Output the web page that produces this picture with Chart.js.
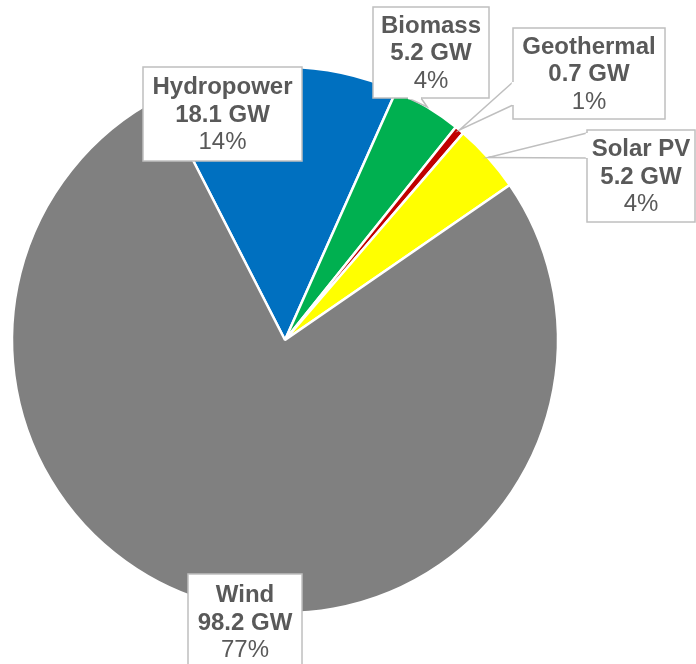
<!DOCTYPE html>
<html>
<head>
<meta charset="utf-8">
<script src="https://cdn.jsdelivr.net/npm/chart.js@4.4.1/dist/chart.umd.min.js"></script>
<style>
  html, body { margin: 0; padding: 0; background: #fff; }
  #wrap { width: 696px; height: 664px; position: relative; }
</style>
</head>
<body>
<div id="wrap"><canvas id="chart"></canvas></div>
<script>
const categories = ['Hydropower', 'Biomass', 'Geothermal', 'Solar PV', 'Wind'];
const capacityGW = [18.1, 5.2, 0.7, 5.2, 98.2];
const colors = ['#0070C0', '#00B050', '#C00000', '#FFFF00', '#808080'];

// callout boxes: x, y, w, h and the two tail base points (null = no tail)
const callouts = [
  { x: 143, y: 67, w: 159, h: 94, tail: null },
  { x: 373, y: 7, w: 116, h: 91, tail: [[408, 98], [421, 98]] },
  { x: 513, y: 28, w: 152, h: 91, tail: [[513, 82], [513, 105]] },
  { x: 587, y: 130, w: 108, h: 92, tail: [[587, 133], [587, 158]] },
  { x: 188, y: 574, w: 114, h: 96, tail: null }
];

const total = capacityGW.reduce((a, b) => a + b, 0);
const ctx = document.getElementById('chart').getContext('2d');

const calloutPlugin = {
  id: 'callouts',
  afterDatasetsDraw(chart) {
    const c = chart.ctx;
    const arcs = chart.getDatasetMeta(0).data;
    c.save();
    callouts.forEach((box, i) => {
      const arc = arcs[i];
      const mid = (arc.startAngle + arc.endAngle) / 2;
      const tip = [arc.x + Math.cos(mid) * arc.outerRadius, arc.y + Math.sin(mid) * arc.outerRadius];

      c.fillStyle = '#ffffff';
      c.strokeStyle = '#BFBFBF';
      c.lineWidth = 1.5;
      c.fillRect(box.x, box.y, box.w, box.h);
      c.strokeRect(box.x, box.y, box.w, box.h);

      if (box.tail) {
        const [a, b] = box.tail;
        c.beginPath();
        c.moveTo(a[0], a[1]);
        c.lineTo(tip[0], tip[1]);
        c.lineTo(b[0], b[1]);
        c.closePath();
        c.fill();
        c.beginPath();
        c.moveTo(a[0], a[1]);
        c.lineTo(tip[0], tip[1]);
        c.lineTo(b[0], b[1]);
        c.stroke();
        // cover box edge under the tail
        c.beginPath();
        c.moveTo(a[0], a[1]);
        c.lineTo(b[0], b[1]);
        c.lineWidth = 2.5;
        c.strokeStyle = '#ffffff';
        c.stroke();
      }

      const v = capacityGW[i];
      const lines = [
        { t: categories[i], f: 'bold 24px "Liberation Sans", Arial, sans-serif' },
        { t: v.toFixed(1) + ' GW', f: 'bold 24px "Liberation Sans", Arial, sans-serif' },
        { t: Math.round(v / total * 100) + '%', f: '24px "Liberation Sans", Arial, sans-serif' }
      ];
      const cx = box.x + box.w / 2;
      const cy = box.y + box.h / 2;
      const lh = 27.5;
      c.fillStyle = '#595959';
      c.textAlign = 'center';
      c.textBaseline = 'middle';
      lines.forEach((ln, k) => {
        c.font = ln.f;
        c.fillText(ln.t, cx, cy + (k - 1) * lh + 1);
      });
    });
    c.restore();
  }
};

new Chart(ctx, {
  type: 'pie',
  data: {
    labels: categories,
    datasets: [{
      data: capacityGW,
      backgroundColor: colors,
      borderColor: '#ffffff',
      borderWidth: 2.5
    }]
  },
  options: {
    responsive: true,
    maintainAspectRatio: false,
    animation: false,
    rotation: -27.1,
    radius: 273,
    layout: { padding: { left: 0, right: 126, top: 16, bottom: 0 } },
    plugins: {
      legend: { display: false },
      tooltip: { enabled: false }
    }
  },
  plugins: [calloutPlugin]
});
</script>
</body>
</html>
